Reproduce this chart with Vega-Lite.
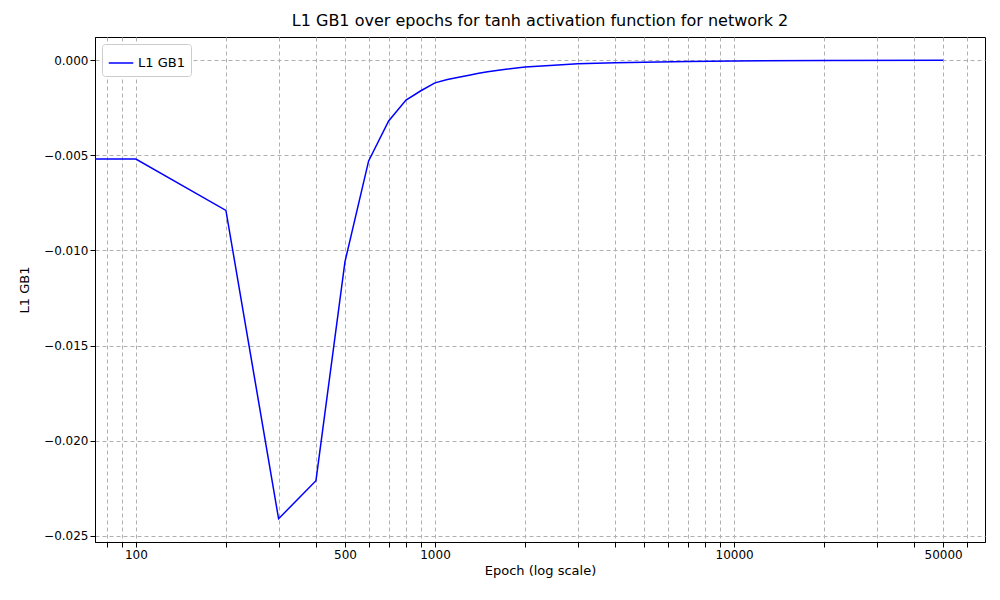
{
  "$schema": "https://vega.github.io/schema/vega-lite/v6.json",
  "autosize": "none",
  "width": 890,
  "height": 505,
  "padding": {"left": 95, "top": 37, "right": 15, "bottom": 58},
  "background": "white",
  "title": {"text": "L1 GB1 over epochs for tanh activation function for network 2", "fontSize": 16, "fontWeight": "normal", "font": "DejaVu Sans", "offset": 8},
  "config": {"font": "DejaVu Sans", "view": {"stroke": "black"}},
  "data": {
    "values": [
      {"epoch": 1, "value": -0.0052, "series": "L1 GB1"},
      {"epoch": 100, "value": -0.0052, "series": "L1 GB1"},
      {"epoch": 200, "value": -0.0079, "series": "L1 GB1"},
      {"epoch": 300, "value": -0.0241, "series": "L1 GB1"},
      {"epoch": 400, "value": -0.0221, "series": "L1 GB1"},
      {"epoch": 500, "value": -0.0106, "series": "L1 GB1"},
      {"epoch": 600, "value": -0.0053, "series": "L1 GB1"},
      {"epoch": 700, "value": -0.0032, "series": "L1 GB1"},
      {"epoch": 800, "value": -0.0021, "series": "L1 GB1"},
      {"epoch": 900, "value": -0.0016, "series": "L1 GB1"},
      {"epoch": 1000, "value": -0.0012, "series": "L1 GB1"},
      {"epoch": 1100, "value": -0.00102, "series": "L1 GB1"},
      {"epoch": 1200, "value": -0.0009, "series": "L1 GB1"},
      {"epoch": 1300, "value": -0.0008, "series": "L1 GB1"},
      {"epoch": 1400, "value": -0.0007, "series": "L1 GB1"},
      {"epoch": 1500, "value": -0.00062, "series": "L1 GB1"},
      {"epoch": 1700, "value": -0.0005, "series": "L1 GB1"},
      {"epoch": 2000, "value": -0.00037, "series": "L1 GB1"},
      {"epoch": 2500, "value": -0.00027, "series": "L1 GB1"},
      {"epoch": 3000, "value": -0.0002, "series": "L1 GB1"},
      {"epoch": 4000, "value": -0.00014, "series": "L1 GB1"},
      {"epoch": 5000, "value": -0.00011, "series": "L1 GB1"},
      {"epoch": 7000, "value": -0.00008, "series": "L1 GB1"},
      {"epoch": 10000, "value": -0.00005, "series": "L1 GB1"},
      {"epoch": 20000, "value": -0.00002, "series": "L1 GB1"},
      {"epoch": 50000, "value": -0.000005, "series": "L1 GB1"}
    ]
  },
  "mark": {"type": "line", "clip": true, "strokeWidth": 1.5},
  "encoding": {
    "x": {
      "field": "epoch", "type": "quantitative",
      "scale": {"type": "log", "domain": [73, 69000], "nice": false},
      "axis": {
        "title": "Epoch (log scale)", "titleFontWeight": "normal", "titleFontSize": 13, "titleColor": "black",
        "values": [80, 90, 100, 200, 300, 400, 500, 600, 700, 800, 900, 1000, 2000, 3000, 4000, 5000, 6000, 7000, 8000, 9000, 10000, 20000, 30000, 40000, 50000, 60000],
        "labelExpr": "indexof([100, 500, 1000, 10000, 50000], datum.value) >= 0 ? datum.value : ''",
        "gridDash": [4, 3], "gridColor": "#b0b0b0", "gridOpacity": 1,
        "labelFontSize": 12, "labelColor": "black", "tickColor": "black", "domainColor": "black", "labelFlush": false
      }
    },
    "y": {
      "field": "value", "type": "quantitative",
      "scale": {"domain": [-0.02532, 0.00121], "nice": false, "zero": false},
      "axis": {
        "title": "L1 GB1", "titleFontWeight": "normal", "titleFontSize": 13, "titleColor": "black", "titlePadding": 12,
        "values": [-0.025, -0.02, -0.015, -0.01, -0.005, 0],
        "format": ".3f",
        "gridDash": [4, 3], "gridColor": "#b0b0b0", "gridOpacity": 1,
        "labelFontSize": 12, "labelColor": "black", "tickColor": "black", "domainColor": "black"
      }
    },
    "color": {
      "field": "series", "type": "nominal",
      "scale": {"range": ["blue"]},
      "legend": {"title": null, "orient": "top-left", "symbolType": "stroke", "symbolSize": 600, "symbolStrokeWidth": 1.5, "labelFontSize": 13, "strokeColor": "#cccccc", "fillColor": "white", "padding": 6, "cornerRadius": 3, "offset": 7}
    }
  }
}
